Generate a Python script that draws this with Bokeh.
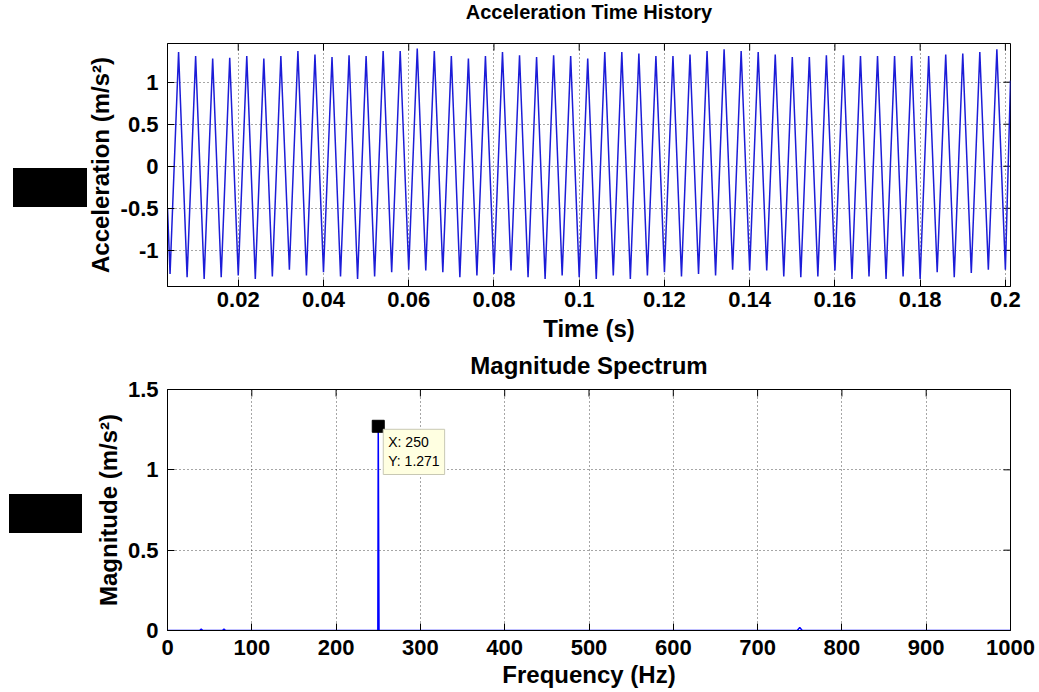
import numpy as np
from bokeh.plotting import figure
from bokeh.layouts import column
from bokeh.models import Range1d, FixedTicker, Label, Div
from bokeh.embed import file_html
from bokeh.resources import INLINE

# ---------------- data ----------------
# acceleration: successive peak / trough values of the 250 Hz signal
accel_peaks = [1.36, 1.31, 1.28, 1.29, 1.31, 1.28, 1.31, 1.37, 1.33, 1.30,
               1.32, 1.31, 1.37, 1.37, 1.40, 1.37, 1.31, 1.28, 1.31, 1.36,
               1.32, 1.30, 1.32, 1.31, 1.28, 1.36, 1.36, 1.34, 1.31, 1.31,
               1.33, 1.37, 1.39, 1.37, 1.36, 1.33, 1.30, 1.30, 1.32, 1.32,
               1.31, 1.31, 1.31, 1.31, 1.31, 1.33, 1.34, 1.36, 1.39]
accel_troughs = [-1.28, -1.32, -1.34, -1.32, -1.30, -1.34, -1.31, -1.23, -1.30, -1.26,
                 -1.31, -1.34, -1.31, -1.26, -1.23, -1.24, -1.26, -1.32, -1.30, -1.28,
                 -1.24, -1.32, -1.34, -1.30, -1.32, -1.34, -1.30, -1.34, -1.30, -1.26,
                 -1.31, -1.28, -1.30, -1.23, -1.24, -1.24, -1.31, -1.32, -1.31, -1.24,
                 -1.34, -1.31, -1.34, -1.31, -1.34, -1.26, -1.32, -1.27, -1.23, -1.23]
extrema_t0 = 0.004        # time of first trough (s)
half_period = 0.002       # spacing between successive extrema (s)
accel_start = (0.0034, -0.50)
accel_end = (0.2012, 1.02)

time_ticks = [0.02, 0.04, 0.06, 0.08, 0.1, 0.12, 0.14, 0.16, 0.18, 0.2]
time_tick_labels = ["0.02", "0.04", "0.06", "0.08", "0.1", "0.12", "0.14", "0.16", "0.18", "0.2"]
accel_ticks = [-1, -0.5, 0, 0.5, 1]
accel_tick_labels = ["-1", "-0.5", "0", "0.5", "1"]

# magnitude spectrum
spec_freq = [0, 38, 40, 42, 65, 67, 69, 249.5, 250, 250.4, 250.9, 747, 750, 753, 1000]
spec_mag = [0, 0, 0.008, 0, 0, 0.008, 0, 0, 1.271, 0.70, 0, 0, 0.018, 0, 0]
freq_ticks = [0, 100, 200, 300, 400, 500, 600, 700, 800, 900, 1000]
freq_tick_labels = ["0", "100", "200", "300", "400", "500", "600", "700", "800", "900", "1000"]
mag_ticks = [0, 0.5, 1, 1.5]
mag_tick_labels = ["0", "0.5", "1", "1.5"]
tip_freq = 250
tip_mag = 1.271

# ---------------- build series ----------------
seq = []
for j in range(len(accel_troughs)):
    seq.append(accel_troughs[j])
    if j < len(accel_peaks):
        seq.append(accel_peaks[j])
t_ext = extrema_t0 + half_period * np.arange(len(seq))
t_all = [accel_start[0]] + list(t_ext) + [accel_end[0]]
a_all = [accel_start[1]] + seq + [accel_end[1]]

FONT = "Liberation Sans"


def style(p, xt, xl, yt, yl, xlabel, ylabel, title, title_size, title_standoff,
          x_std, x_lab_std, y_lab_std):
    p.title.text = title
    p.title.align = "center"
    p.title.text_font = FONT
    p.title.text_font_size = title_size
    p.title.text_font_style = "bold"
    p.title.text_color = "black"
    p.title.standoff = title_standoff
    p.outline_line_color = "black"
    p.background_fill_color = "white"
    p.border_fill_color = None
    xa = p.xaxis[0]
    ya = p.yaxis[0]
    xa.ticker = FixedTicker(ticks=xt)
    ya.ticker = FixedTicker(ticks=yt)
    xa.major_label_overrides = dict(zip(xt, xl))
    ya.major_label_overrides = dict(zip(yt, yl))
    xa.axis_label = xlabel
    ya.axis_label = ylabel
    for ax in (xa, ya):
        ax.axis_line_color = "black"
        ax.major_tick_in = 7
        ax.major_tick_out = 0
        ax.minor_tick_line_color = None
        ax.major_tick_line_color = "black"
        ax.major_label_text_font = FONT
        ax.major_label_text_font_size = "22px"
        ax.major_label_text_font_style = "bold"
        ax.major_label_text_color = "black"
        ax.axis_label_text_font = FONT
        ax.axis_label_text_font_size = "24px"
        ax.axis_label_text_font_style = "bold"
        ax.axis_label_text_color = "black"
    xa.major_label_standoff = x_std
    ya.major_label_standoff = 9
    xa.axis_label_standoff = x_lab_std
    ya.axis_label_standoff = y_lab_std
    p.xgrid.ticker = FixedTicker(ticks=xt)
    p.ygrid.ticker = FixedTicker(ticks=yt)
    for g in (p.xgrid, p.ygrid):
        g.grid_line_color = "black"
        g.grid_line_alpha = 0.7
        g.grid_line_dash = "1 3"
        g.grid_line_width = 1
    # box ticks on the top and right edges (half of each dash is clipped by the frame)
    xr, yr = p.x_range, p.y_range
    p.scatter([xr.end] * len(yt), yt, marker="dash", size=14,
              line_color="black", line_width=1)
    p.scatter(xt, [yr.end] * len(xt), marker="dash", size=14, angle=np.pi / 2,
              line_color="black", line_width=1)


# the top part of each canvas is pulled upward to leave room for its title
p1 = figure(width=1039, height=369, margin=(-24, 0, 0, 0),
            x_range=Range1d(0.0034, 0.2012), y_range=Range1d(-1.43, 1.46),
            output_backend="svg", toolbar_location=None,
            min_border_left=167, min_border_right=29, min_border_top=67, min_border_bottom=59)
style(p1, time_ticks, time_tick_labels, accel_ticks, accel_tick_labels,
      "Time (s)", "Acceleration (m/s²)", "Acceleration Time History", "20px", 42, 5, 5, 4)
p1.line(t_all, a_all, line_color="#1c1cd8", line_width=1.5)

p2 = figure(width=1039, height=357, margin=(-10, 0, 0, 0),
            x_range=Range1d(0, 1000), y_range=Range1d(0, 1.5),
            output_backend="svg", toolbar_location=None,
            min_border_left=166, min_border_right=29, min_border_top=54, min_border_bottom=62)
style(p2, freq_ticks, freq_tick_labels, mag_ticks, mag_tick_labels,
      "Frequency (Hz)", "Magnitude (m/s²)", "Magnitude Spectrum", "24px", 22, 9, 3, 3)
p2.line(spec_freq, spec_mag, line_color="#0000ff", line_width=1.5)
p2.scatter([tip_freq], [tip_mag], marker="square", size=12,
           fill_color="black", line_color="black")
p2.add_layout(Label(x=tip_freq, y=tip_mag, x_offset=5, y_offset=-3,
                    text=f"X: {tip_freq:g}\nY: {tip_mag:g}",
                    text_font=FONT, text_font_size="14px", text_color="black",
                    text_align="left", text_baseline="top",
                    background_fill_color="#FFFFE1", background_fill_alpha=1,
                    border_line_color="#C8C8B4", padding=5))

# redaction boxes present in the reference image
boxes = Div(text=(
    '<div style="position:fixed;left:13px;top:168px;width:74px;height:39px;background:#000;"></div>'
    '<div style="position:fixed;left:9px;top:494px;width:73px;height:39px;background:#000;"></div>'),
    width=0, height=0)

layout = column(p1, p2, boxes, spacing=0)
open("out.html", "w").write(file_html(layout, INLINE))
